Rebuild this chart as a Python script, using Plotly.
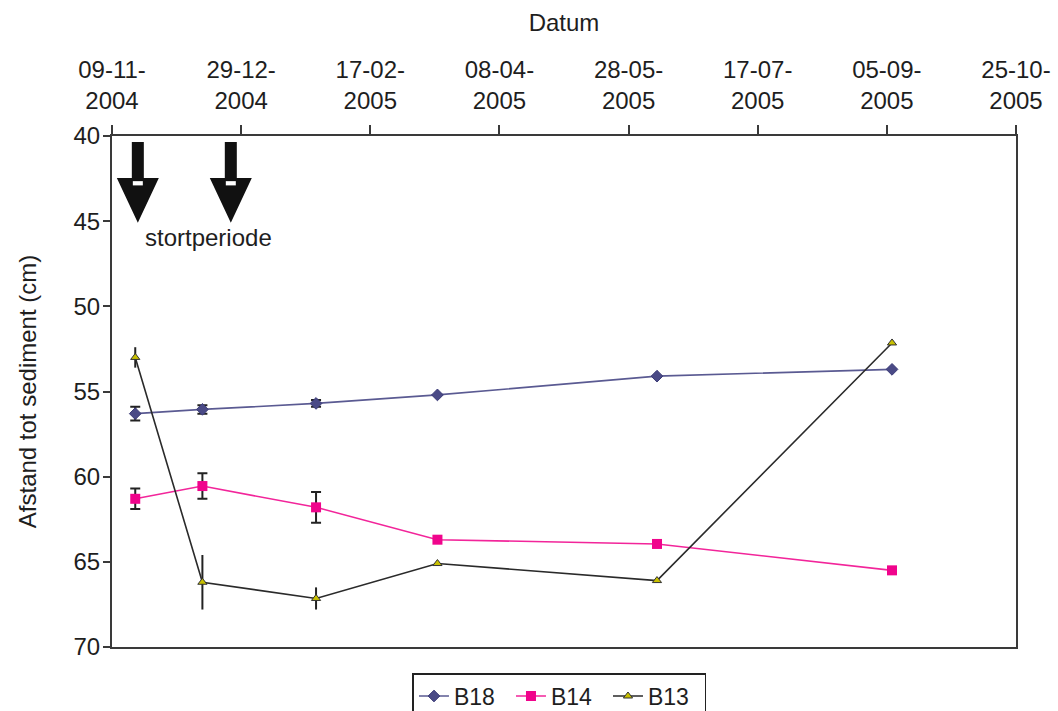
import plotly.graph_objects as go

# Measurement dates and sediment distances (cm) per location
dates = ["2004-11-18", "2004-12-14", "2005-01-27", "2005-03-15", "2005-06-08", "2005-09-07"]
b18 = [56.3, 56.05, 55.7, 55.2, 54.1, 53.7]
b14 = [61.3, 60.55, 61.8, 63.7, 63.95, 65.5]
b13 = [53.0, 66.2, 67.15, 65.1, 66.1, 52.15]

# Standard deviation (only the first three surveys have replicates)
b18_err = [0.4, 0.25, 0.2, None, None, None]
b14_err = [0.6, 0.75, 0.9, None, None, None]
b13_err = [0.6, 1.6, 0.65, None, None, None]

# Dumping events ("stortperiode")
stort_dates = ["2004-11-19", "2004-12-25"]

# Date axis ticks (50-day steps)
tick_dates = ["2004-11-09", "2004-12-29", "2005-02-17", "2005-04-08",
              "2005-05-28", "2005-07-17", "2005-09-05", "2005-10-25"]
tick_text = ["09-11-<br>2004", "29-12-<br>2004", "17-02-<br>2005", "08-04-<br>2005",
             "28-05-<br>2005", "17-07-<br>2005", "05-09-<br>2005", "25-10-<br>2005"]
y_ticks = [40, 45, 50, 55, 60, 65, 70]

FONT = "Liberation Sans, Arial, sans-serif"
TXT = "#1e1e1e"

series = [
    ("B18", b18, b18_err, dict(color="#4a4a86", symbol="diamond", size=9,
                                line=dict(color="#3c3c78", width=1)), "#5a5a92", 5),
    ("B14", b14, b14_err, dict(color="#f0048c", symbol="square", size=10,
                                line=dict(width=0)), "#f2259a", 5),
    ("B13", b13, b13_err, dict(color="#c8c000", symbol="triangle-up", size=8,
                                line=dict(color="#333333", width=1)), "#2a2a2a", 0),
]

fig = go.Figure()

for name, vals, errs, marker, lcolor, capw in series:
    idx = [i for i, e in enumerate(errs) if e is not None]
    fig.add_trace(go.Scatter(
        x=[dates[i] for i in idx], y=[vals[i] for i in idx],
        mode="markers", marker=dict(size=1, opacity=0),
        error_y=dict(type="data", array=[errs[i] for i in idx], visible=True,
                     color="#222222", thickness=2, width=capw),
        showlegend=False, hoverinfo="skip",
    ))
    fig.add_trace(go.Scatter(
        x=dates, y=vals, name=name, mode="lines+markers",
        line=dict(color=lcolor, width=1.6), marker=marker,
    ))

# Dump arrows: shaft + head, with a small white notch
for d in stort_dates:
    fig.add_shape(
        type="path", xref="x", yref="y", xsizemode="pixel", xanchor=d,
        path="M -6,40.35 L 6,40.35 L 6,42.47 L 21,42.47 L 0,45.1 L -21,42.47 L -6,42.47 Z",
        fillcolor="#111111", line=dict(width=0),
    )
    fig.add_shape(
        type="rect", xref="x", yref="y", xsizemode="pixel", xanchor=d,
        x0=-5, x1=5, y0=42.65, y1=42.9,
        fillcolor="white", line=dict(width=0),
    )

fig.add_annotation(
    x="2004-11-21", y=45.95, xref="x", yref="y", text="stortperiode",
    showarrow=False, xanchor="left", yanchor="middle",
    font=dict(family=FONT, size=24, color=TXT),
)

axis_common = dict(
    showgrid=False, zeroline=False, showline=True, mirror=True,
    linecolor="#3a3a3a", linewidth=2, ticks="outside", tickcolor="#3a3a3a",
    tickwidth=2, tickfont=dict(family=FONT, size=24, color=TXT),
)

fig.update_layout(
    width=1058, height=711,
    margin=dict(l=112, r=42, t=136, b=64, autoexpand=False),
    paper_bgcolor="white", plot_bgcolor="white",
    font=dict(family=FONT, size=24, color=TXT),
    xaxis=dict(
        type="date", side="top", range=["2004-11-09", "2005-10-25"],
        tickmode="array", tickvals=tick_dates, ticktext=tick_text,
        ticklen=9, ticklabelstandoff=6,
        title=dict(text="Datum", font=dict(family=FONT, size=24, color=TXT), standoff=18),
        automargin=False, **axis_common,
    ),
    yaxis=dict(
        range=[70, 40], tickmode="array", tickvals=y_ticks,
        ticklen=7, ticklabelstandoff=-2,
        title=dict(text="Afstand tot sediment (cm)", font=dict(family=FONT, size=24, color=TXT),
                   standoff=30),
        automargin=False, **axis_common,
    ),
    legend=dict(
        orientation="h", x=0.495, y=-0.051, xanchor="center", yanchor="top",
        bordercolor="#222222", borderwidth=1.5, bgcolor="white",
        font=dict(family=FONT, size=23, color=TXT), entrywidth=52,
        tracegroupgap=0,
    ),
)

fig.write_html("out.html")
